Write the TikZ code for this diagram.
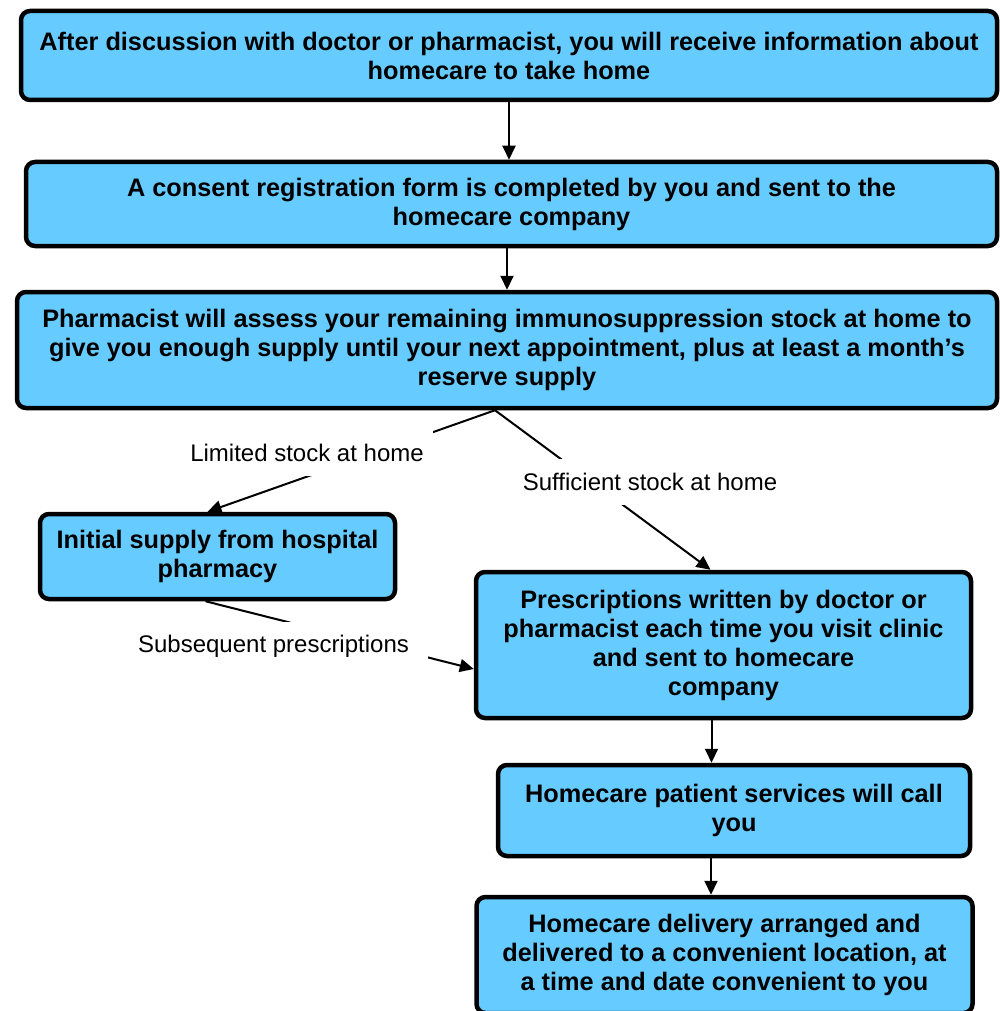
\documentclass[tikz,border=0pt]{standalone}
\usepackage{fontspec}
\setmainfont{Liberation Sans}
\usetikzlibrary{arrows.meta}
\definecolor{boxblue}{HTML}{66CCFF}
\begin{document}
\begin{tikzpicture}[x=1pt,y=-1pt,
		stepbox/.style={draw=black,fill=boxblue,line width=4.5pt,rounded corners=9pt,align=center,font=\fontsize{25.3}{29}\selectfont\bfseries},
		link/.style={line width=2pt,-{Triangle[length=14pt,width=13pt]}},
		lbl/.style={fill=white,inner sep=0pt,font=\fontsize{24}{28}\selectfont}]
		\useasboundingbox (0,0) rectangle (999,1011);

		% boxes
		\node[stepbox,minimum width=976,minimum height=89] (info) at (509,55.5) {After discussion with doctor or pharmacist, you will receive information about\\homecare to take home};
		\node[stepbox,minimum width=971,minimum height=84] (consent) at (511.5,204) {A consent registration form is completed by you and sent to the\\homecare company};
		\node[stepbox,minimum width=980,minimum height=116] (assess) at (507,350) {Pharmacist will assess your remaining immunosuppression stock at home to\\give you enough supply until your next appointment, plus at least a month’s\\reserve supply};
		\node[stepbox,minimum width=355,minimum height=85] (initial) at (217.5,556.5) {Initial supply from hospital\\pharmacy};
		\node[stepbox,minimum width=495,minimum height=146] (prescribe) at (723.5,645) {Prescriptions written by doctor or\\pharmacist each time you visit clinic\\and sent to homecare\\company};
		\node[stepbox,minimum width=472,minimum height=91] (call) at (734,810.5) {Homecare patient services will call\\you};
		\node[stepbox,minimum width=496,minimum height=116] (deliver) at (724.5,955) {Homecare delivery arranged and\\delivered to a convenient location, at\\a time and date convenient to you};

		% arrows
		\draw[link] (info.south) -- (info.south |- consent.north);
		\draw[link] (assess.north |- consent.south) -- (assess.north);
		\coordinate (split) at ([xshift=-12pt]assess.south);
		\draw[link] (split) -- ([xshift=-10pt]initial.north);
		\draw[link] (split) -- ([xshift=-13pt]prescribe.north);
		\draw[link] ([xshift=-12pt]initial.south) -- ([yshift=-24pt]prescribe.west);
		\draw[link] ([xshift=-12pt]prescribe.south) -- ([xshift=-12pt]prescribe.south |- call.north);
		\draw[link] ([xshift=-23pt]call.south) -- ([xshift=-23pt]call.south |- deliver.north);

		% labels
		\node[lbl,minimum width=252,minimum height=47] (limited) at (307,452.5) {Limited stock at home};
		\node[lbl,minimum width=262,minimum height=46] (sufficient) at (650,482) {Sufficient stock at home};
		\node[lbl,minimum width=309,minimum height=48] (subsequent) at (273.5,646) {Subsequent prescriptions};
\end{tikzpicture}
\end{document}
